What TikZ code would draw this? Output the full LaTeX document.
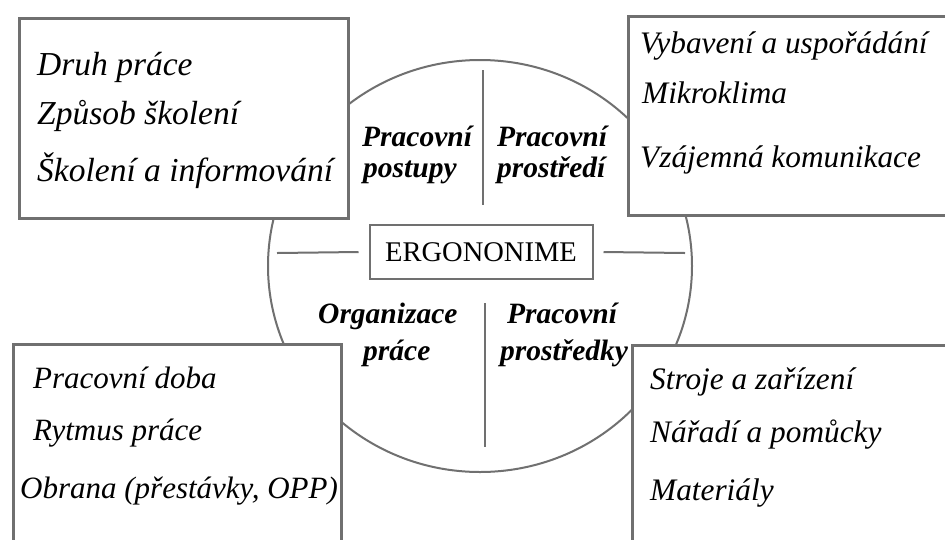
\documentclass[tikz,border=0pt]{standalone}
\usepackage{fontspec}
\setmainfont{Liberation Serif}
\usepackage{xcolor}
\usepackage{tikz}
\usetikzlibrary{shapes.geometric}

\definecolor{linegray}{RGB}{112,112,112}
\tikzset{
  panel/.style={draw=linegray, line width=2.5pt, fill=white, anchor=north west, inner sep=0pt},
  item/.style={anchor=base west, inner sep=0pt, font=\fontsize{#1}{38}\selectfont\itshape},
  item/.default=31.3,
  area/.style={anchor=base west, inner sep=0pt, font=\fontsize{29.5}{34}\selectfont\bfseries\itshape},
  rule/.style={draw=linegray, line width=2pt}
}

\begin{document}
\begin{tikzpicture}[x=1pt,y=-1pt]
                    \clip (0,0) rectangle (945,539);
                    \fill[white] (0,0) rectangle (945,539);

                    \node (circ) [ellipse, rule, minimum width=424pt, minimum height=412pt, inner sep=0pt] at (480,266) {};
                    \node (ergo) [rule, minimum width=223pt, minimum height=54pt, font=\fontsize{28.5}{30}\selectfont] at (481,252) {ERGONONIME};

                    \coordinate (lw) at (277,253);
                    \coordinate (le) at (685,253);
                    \coordinate (vn) at (483,70);
                    \coordinate (vs) at (485,447);
                    \draw[rule] (lw) -- ([xshift=-10pt]ergo.west);
                    \draw[rule] ([xshift=10pt]ergo.east) -- (le);
                    \draw[rule] (vn) -- (483,205);
                    \draw[rule] (485,303) -- (vs);

                    \node (procbox) [panel, minimum width=329pt, minimum height=200pt] at (18,17) {};
                    \node (envbox) [panel, minimum width=340pt, minimum height=199pt] at (627,15) {};
                    \node (orgbox) [panel, minimum width=328pt, minimum height=220pt] at (12,343) {};
                    \node (toolbox) [panel, minimum width=340pt, minimum height=220pt] at (631,344) {};

                    \node (druh) [item=33.5] at (37,75) {Druh práce};
                    \node (zpusob) [item=33.5] at (37,124) {Způsob školení};
                    \node (skol) [item=33.5] at (37,181) {Školení a informování};

                    \node (vyb) [item] at (640,53) {Vybavení a uspořádání};
                    \node (mikro) [item] at (642,103) {Mikroklima};
                    \node (komun) [item] at (640,167) {Vzájemná komunikace};

                    \node (doba) [item=31] at (33,388) {Pracovní doba};
                    \node (rytmus) [item=31] at (33,440) {Rytmus práce};
                    \node (obrana) [item=31] at (20,498) {Obrana (přestávky, OPP)};

                    \node (stroje) [item] at (650,389) {Stroje a zařízení};
                    \node (naradi) [item] at (650,442) {Nářadí a pomůcky};
                    \node (mat) [item] at (650,500) {Materiály};

                    \node (postA) [area] at (362,146) {Pracovní};
                    \node (postB) [area] at (363,177) {postupy};
                    \node (prostA) [area] at (497,146) {Pracovní};
                    \node (prostB) [area] at (497,177) {prostředí};
                    \node (orgA) [area] at (318,323) {Organizace};
                    \node (orgB) [area] at (363,360) {práce};
                    \node (prA) [area] at (507,323) {Pracovní};
                    \node (prB) [area] at (500,360) {prostředky};
                \end{tikzpicture}
\end{document}
